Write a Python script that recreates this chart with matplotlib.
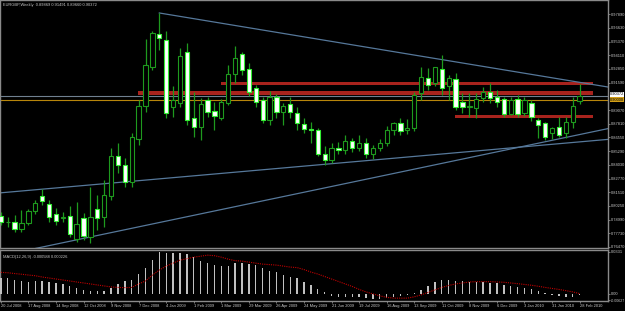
import numpy as np
import matplotlib.pyplot as plt
from matplotlib.patches import Rectangle

plt.rcParams['font.family'] = ['Liberation Sans', 'DejaVu Sans']

# weekly EURGBP bars, 20 Jul 2008 .. 28 Feb 2010
opens = [0.7932, 0.7877, 0.7877, 0.7813, 0.7868, 0.7978, 0.8116, 0.8043, 0.7951, 0.7910,
         0.7932, 0.7721, 0.7914, 0.7739, 0.7997, 0.7923, 0.8116, 0.8480, 0.8400, 0.8245,
         0.8641, 0.8944, 0.9303, 0.9607, 0.9551, 0.8935, 0.8971, 0.9441, 0.8834, 0.8751,
         0.8999, 0.8898, 0.8834, 0.8971, 0.9239, 0.9423, 0.9285, 0.9110, 0.8999, 0.8815,
         0.9027, 0.8889, 0.8963, 0.8880, 0.8780, 0.8730, 0.8720, 0.8500, 0.8450, 0.8560,
         0.8540, 0.8620, 0.8560, 0.8600, 0.8500, 0.8560, 0.8600, 0.8720, 0.8788, 0.8723,
         0.8742, 0.9064, 0.9202, 0.9156, 0.9285, 0.9128, 0.9193, 0.8981, 0.8935, 0.8926,
         0.9018, 0.9073, 0.9027, 0.9009, 0.8870, 0.9009, 0.8880, 0.8971, 0.8815, 0.8788,
         0.8696, 0.8751, 0.8696, 0.8797, 0.89869]
highs = [0.7969, 0.7923, 0.7941, 0.7987, 0.7997, 0.8079, 0.8181, 0.8079, 0.8006, 0.7969,
         0.8024, 0.8061, 0.7960, 0.8199, 0.8125, 0.8263, 0.8560, 0.8600, 0.8470, 0.8700,
         0.8999, 0.9561, 0.9634, 0.9800, 0.9634, 0.9128, 0.9478, 0.9524, 0.9073, 0.9018,
         0.9027, 0.8981, 0.9009, 0.9321, 0.9496, 0.9441, 0.9340, 0.9137, 0.9027, 0.9082,
         0.9055, 0.8972, 0.9027, 0.8935, 0.8830, 0.8800, 0.8740, 0.8580, 0.8600, 0.8610,
         0.8680, 0.8650, 0.8680, 0.8650, 0.8590, 0.8640, 0.8760, 0.8800, 0.8834, 0.8825,
         0.9073, 0.9303, 0.9294, 0.9306, 0.9413, 0.9229, 0.9248, 0.9064, 0.9064, 0.9064,
         0.9119, 0.9156, 0.9091, 0.9027, 0.9027, 0.9045, 0.9027, 0.8999, 0.8834, 0.8797,
         0.8751, 0.8843, 0.8843, 0.9027, 0.91491]
lows = [0.7849, 0.7831, 0.7785, 0.7785, 0.7849, 0.7951, 0.8033, 0.7877, 0.7849, 0.7877,
        0.7739, 0.7693, 0.7711, 0.7684, 0.7803, 0.7831, 0.8079, 0.8330, 0.8200, 0.8200,
        0.8585, 0.8889, 0.9275, 0.9459, 0.8834, 0.8843, 0.8935, 0.8769, 0.8659, 0.8631,
        0.8843, 0.8723, 0.8815, 0.8953, 0.9156, 0.9229, 0.9036, 0.8935, 0.8788, 0.8769,
        0.8834, 0.8769, 0.8834, 0.8723, 0.8700, 0.8600, 0.8480, 0.8400, 0.8420, 0.8500,
        0.8500, 0.8520, 0.8530, 0.8470, 0.8460, 0.8530, 0.8580, 0.8680, 0.8677, 0.8687,
        0.8714, 0.8999, 0.9091, 0.9128, 0.9045, 0.8999, 0.8907, 0.8880, 0.8843, 0.8834,
        0.8981, 0.8972, 0.8935, 0.8843, 0.8861, 0.8843, 0.8852, 0.8806, 0.8650, 0.8631,
        0.8641, 0.8659, 0.8650, 0.8742, 0.89660]
closes = [0.7877, 0.7880, 0.7813, 0.7868, 0.7978, 0.8052, 0.8070, 0.7923, 0.7886, 0.7920,
          0.7767, 0.7859, 0.7748, 0.7923, 0.7914, 0.8125, 0.8480, 0.8400, 0.8245, 0.8659,
          0.8944, 0.9321, 0.9616, 0.9570, 0.8880, 0.8999, 0.9404, 0.8815, 0.8751, 0.8963,
          0.8889, 0.8852, 0.8981, 0.9239, 0.9386, 0.9275, 0.9073, 0.8981, 0.8815, 0.9027,
          0.8889, 0.8944, 0.8889, 0.8788, 0.8730, 0.8720, 0.8500, 0.8450, 0.8560, 0.8540,
          0.8620, 0.8560, 0.8600, 0.8500, 0.8560, 0.8600, 0.8720, 0.8788, 0.8714, 0.8742,
          0.9045, 0.9211, 0.9137, 0.9303, 0.9110, 0.9202, 0.8935, 0.8935, 0.8940, 0.9009,
          0.9073, 0.9018, 0.8981, 0.8870, 0.8999, 0.8870, 0.8999, 0.8843, 0.8769, 0.8659,
          0.8742, 0.8677, 0.8797, 0.8944, 0.90372]

macd = [0.01287, 0.01225, 0.01092, 0.00991, 0.00959, 0.00991, 0.01037, 0.00959, 0.00881, 0.0078,
        0.00624, 0.00445, 0.00335, 0.00257, 0.00234, 0.00257, 0.00491, 0.0078, 0.00991, 0.01115,
        0.0156, 0.02005, 0.02675, 0.03331, 0.03253, 0.03253, 0.03253, 0.0312, 0.02863, 0.02597,
        0.02418, 0.02262, 0.02207, 0.02207, 0.02418, 0.02418, 0.0234, 0.02285, 0.02005, 0.01817,
        0.01693, 0.01482, 0.01303, 0.01225, 0.00959, 0.00702, 0.0039, 0.00179, -0.00133, -0.00257,
        -0.00257, -0.00257, -0.00257, -0.00335, -0.0039, -0.0039, -0.00335, -0.00257, -0.00156, -0.00055,
        0.00078, 0.00335, 0.00647, 0.00959, 0.01115, 0.01115, 0.01037, 0.00991, 0.00959, 0.00913,
        0.00913, 0.00858, 0.00835, 0.00725, 0.00647, 0.00569, 0.00468, 0.0039, 0.00257, 0.00055,
        -0.00078, -0.00179, -0.00234, -0.00234, -0.000588]
signal = [0.01693, 0.01661, 0.01599, 0.01544, 0.01482, 0.01427, 0.01326, 0.01248, 0.0117, 0.01092,
          0.01014, 0.00936, 0.00858, 0.0078, 0.00702, 0.00624, 0.00546, 0.00507, 0.00491, 0.00507,
          0.0078, 0.01014, 0.01482, 0.01872, 0.02184, 0.02418, 0.02652, 0.02769, 0.02886, 0.02964,
          0.03042, 0.03003, 0.02886, 0.0273, 0.02613, 0.02574, 0.02496, 0.02418, 0.0234, 0.02301,
          0.02262, 0.02184, 0.02106, 0.02067, 0.01911, 0.01716, 0.0156, 0.01365, 0.0117, 0.00975,
          0.0078, 0.00585, 0.00351, 0.00156, 0.0, -0.00156, -0.00273, -0.00335, -0.00335, -0.00335,
          -0.00234, -0.00078, 0.00117, 0.00312, 0.00507, 0.00663, 0.0078, 0.00858, 0.00936, 0.00959,
          0.00959, 0.00959, 0.00936, 0.00913, 0.00858, 0.00803, 0.00741, 0.00679, 0.00601, 0.00507,
          0.00429, 0.00351, 0.00257, 0.00156, 0.000226]

date_labels = ['20 Jul 2008', '17 Aug 2008', '14 Sep 2008', '12 Oct 2008', '9 Nov 2008',
               '7 Dec 2008', '4 Jan 2009', '1 Feb 2009', '1 Mar 2009', '29 Mar 2009',
               '26 Apr 2009', '24 May 2009', '21 Jun 2009', '19 Jul 2009', '16 Aug 2009',
               '13 Sep 2009', '11 Oct 2009', '8 Nov 2009', '6 Dec 2009', '3 Jan 2010',
               '31 Jan 2010', '28 Feb 2010']
# 0.90330 sits under the price boxes and is not visible
price_ticks = [0.76470, 0.77730, 0.78990, 0.80250, 0.81510, 0.82770, 0.84030, 0.85290,
               0.86550, 0.87810, 0.89070, 0.91590, 0.92850, 0.94110, 0.95370,
               0.96630, 0.97890]
macd_ticks = [0.0331, 0.0, -0.0052]
macd_tick_labels = ['0.0331', '0.00', '-0.00627']

# support / resistance zones: (start bar, end bar, low, high)
zone_start = [19.9, 32.0, 65.9]
zone_end = [86.0, 86.0, 86.0]
zone_low = [0.9045, 0.9137, 0.8834]
zone_high = [0.9082, 0.9165, 0.8861]

# trend lines: two points each (bar, price)
trend_x = [[23, 88.1], [4.0, 88.1], [-0.1, 88.1]]
trend_y = [[0.9800, 0.9119], [0.7620, 0.8736], [0.8145, 0.8637]]

bid = 0.90372
level = 0.90000

W, H = 625, 311
fs = 2.9
fig = plt.figure(figsize=(W / 100, H / 100), dpi=100, facecolor='black')
ax = fig.add_axes([0, 1 - 248 / H, 608 / W, 248 / H], facecolor='black')
ax2 = fig.add_axes([0, 1 - 301 / H, 608 / W, 51 / H], facecolor='black')

grey = '#8a8a8a'
txt = '#c8c8c8'
x = np.arange(len(opens))
o = np.array(opens)
c = np.array(closes)
up = c >= o

for i in range(len(zone_start)):
    ax.add_patch(Rectangle((zone_start[i], zone_low[i]), zone_end[i] - zone_start[i],
                           zone_high[i] - zone_low[i], facecolor='#a8231d',
                           edgecolor='none', zorder=1))

ax.axhline(level, color='#b8860b', lw=0.8, zorder=2)
ax.axhline(bid, color='#708090', lw=0.8, zorder=2)

for tx, ty in zip(trend_x, trend_y):
    ax.plot(tx, ty, color='#56789a', lw=0.9, zorder=2)

ax.vlines(x, lows, highs, color='#1e9a1e', lw=0.9, zorder=3)
bodies = np.where(np.abs(c - o) < 0.0002, 0.0002, c - o)
ax.bar(x[up], bodies[up], bottom=o[up], width=0.62, color='black',
       edgecolor='#1e9a1e', lw=0.8, zorder=4)
ax.bar(x[~up], bodies[~up], bottom=o[~up], width=0.62, color='white',
       edgecolor='#33ee33', lw=0.8, zorder=4)

ax.set_xlim(-0.12, 88.12)
ax.set_ylim(0.76378, 0.99194)
ax.set_xticks([])
ax.yaxis.tick_right()
ax.set_yticks(price_ticks)
ax.set_yticklabels(['%.5f' % p for p in price_ticks])
ax.tick_params(axis='y', direction='out', length=1.5, width=0.6, color=grey,
               labelcolor=txt, labelsize=fs, pad=0.8)
for s in ax.spines.values():
    s.set_color(grey)
    s.set_linewidth(1.0)

ax.text(1.003, 0.9021, '0.90000', transform=ax.get_yaxis_transform(), fontsize=fs,
        color='black', va='top', ha='left', clip_on=False,
        bbox=dict(facecolor='#d4a017', edgecolor='none', pad=0.2))
ax.text(1.003, 0.9034, '%.5f' % bid, transform=ax.get_yaxis_transform(), fontsize=fs,
        color='black', va='bottom', ha='left', clip_on=False,
        bbox=dict(facecolor='white', edgecolor='none', pad=0.2))

fig.text(3 / W, 1 - 5 / H, 'EURGBP,Weekly  %.5f %.5f %.5f %.5f' % (opens[-1], highs[-1], lows[-1], closes[-1]),
         color=txt, fontsize=fs, va='center', ha='left')

# MACD panel
ax2.bar(x, macd, width=0.2, color='#c0c0c0', zorder=3)
ax2.plot(x, signal, color='#c00000', lw=0.8, ls=(0, (1, 1)), zorder=4)
ax2.set_xlim(-0.12, 88.12)
ax2.set_ylim(-0.0056, 0.0345)
ax2.yaxis.tick_right()
ax2.set_yticks(macd_ticks)
ax2.set_yticklabels(macd_tick_labels)
ax2.set_xticks(np.arange(0, len(opens), 4))
ax2.set_xticklabels(date_labels)
for lab in ax2.get_xticklabels():
    lab.set_ha('left')
ax2.tick_params(axis='both', direction='out', length=1.5, width=0.6, color=grey,
                labelcolor=txt, labelsize=fs, pad=0.8)
ax2.get_yticklabels()[-1].set_fontsize(2.6)
for s in ax2.spines.values():
    s.set_color(grey)
    s.set_linewidth(1.0)
ax2.text(0.005, 0.9, 'MACD(12,26,9) %.6f %.6f' % (macd[-1], signal[-1]), transform=ax2.transAxes,
         color=txt, fontsize=fs, va='top', ha='left')

fig.savefig('out.png', dpi=100, facecolor='black')
